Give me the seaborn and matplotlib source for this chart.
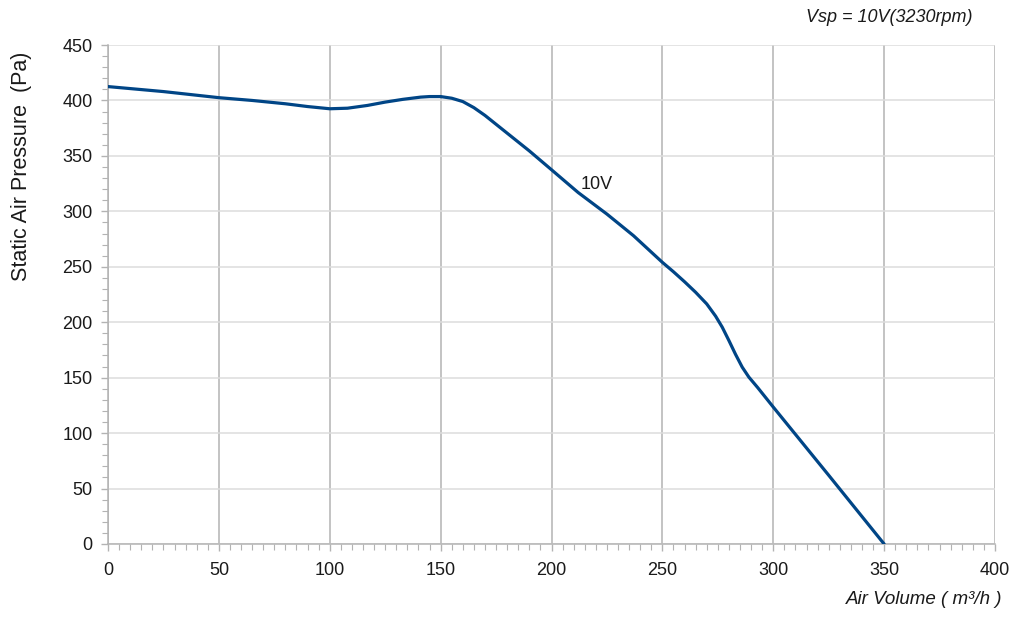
import numpy as np
import matplotlib
matplotlib.use("Agg")
import matplotlib.pyplot as plt
from matplotlib.ticker import MultipleLocator
import seaborn as sns
import pandas as pd

# Fan curve at Vsp = 10V
air_volume = [0, 25, 50, 65, 80, 90, 100, 108, 117, 125, 133, 141, 145, 150,
              155, 160, 165, 170, 175, 180, 185, 190, 195, 200, 212, 225,
              237, 250, 255, 260, 265, 270, 274, 277, 280, 283, 286, 289, 293,
              297, 300, 325, 350]
pressure = [412.5, 408, 402.5, 400, 397, 394.5, 392.5, 393, 395.5, 398.5, 401,
            403, 403.5, 403.5, 402, 399, 393.5, 386.5, 378.5, 370.5, 362.5,
            354.5, 346, 337.5, 317, 297.5, 278, 254, 245.5, 236.5, 227, 216.5,
            205.5, 195.5, 183.5, 171, 159.5, 150.5, 141, 131, 123.5, 62, 0]

x_ticks = [0, 50, 100, 150, 200, 250, 300, 350, 400]
y_ticks = [0, 50, 100, 150, 200, 250, 300, 350, 400, 450]

curve_label = "10V"
title_text = "Vsp = 10V(3230rpm)"
x_title = "Air Volume ( m³/h )"
y_title = "Static Air Pressure  (Pa)"

sns.set_style("white")
plt.rcParams['font.family'] = ['Liberation Sans', 'DejaVu Sans']

df = pd.DataFrame({"Air Volume": air_volume, "Pressure": pressure})

fig = plt.figure(figsize=(10.24, 6.22), dpi=100)
ax = fig.add_axes([108 / 1024, 78 / 622, 887 / 1024, 499 / 622])

grid_v = "#b3b3b3"
grid_h = "#dcdcdc"

sns.lineplot(data=df, x="Air Volume", y="Pressure", ax=ax, sort=False,
             color="#004586", linewidth=2.3, zorder=3)
ax.lines[0].set_solid_joinstyle("round")

ax.set_xlim(0, 400)
ax.set_ylim(0, 450)
ax.set_xticks(x_ticks)
ax.set_yticks(y_ticks)
ax.xaxis.set_minor_locator(MultipleLocator(5))
ax.yaxis.set_minor_locator(MultipleLocator(10))

ax.xaxis.grid(True, which="major", color=grid_v, linewidth=1.1)
ax.yaxis.grid(True, which="major", color=grid_h, linewidth=1.1)
ax.set_axisbelow(True)

for side in ["top", "right"]:
    ax.spines[side].set_visible(False)
for side in ["left", "bottom"]:
    ax.spines[side].set_color(grid_v)
    ax.spines[side].set_linewidth(1.1)

ax.tick_params(axis="both", which="both", bottom=True, left=True,
               top=False, right=False, direction="out")
ax.tick_params(axis="both", which="major", length=5, width=1, color=grid_v,
               labelsize=13, labelcolor="#1a1a1a")
ax.tick_params(axis="both", which="minor", length=4, width=0.8, color=grid_v)
ax.tick_params(axis="x", which="major", pad=8)
ax.tick_params(axis="y", which="major", pad=6)

ax.set_xlabel("")
ax.set_ylabel("")

ax.text(213, 320, curve_label, fontsize=13, color="#1a1a1a",
        ha="left", va="baseline")

fig.text(972 / 1024, 1 - 18 / 622, title_text, fontsize=13, style="italic",
         ha="right", va="center", color="#1a1a1a")
fig.text(1002 / 1024, 1 - 600 / 622, x_title, fontsize=13.5, style="italic",
         ha="right", va="center", color="#1a1a1a")
fig.text(22 / 1024, 1 - 166 / 622, y_title, fontsize=15.5, rotation=90,
         ha="center", va="center", color="#1a1a1a")

fig.savefig("out.png", dpi=100)
